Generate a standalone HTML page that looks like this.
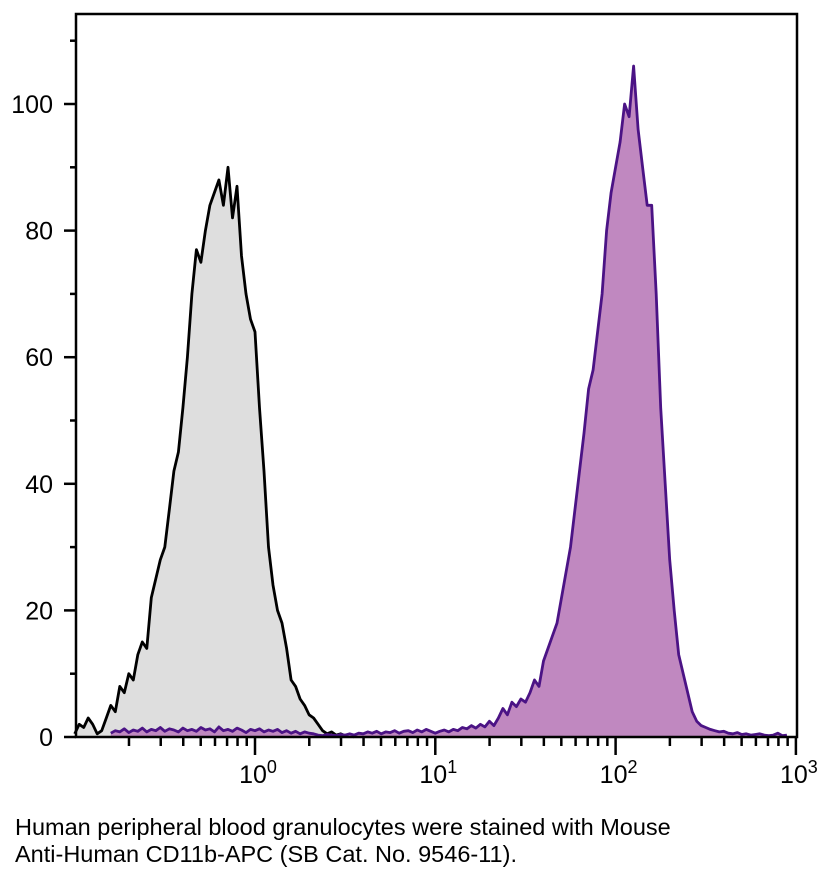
<!DOCTYPE html>
<html><head><meta charset="utf-8"><style>
body{margin:0;background:#fff;width:826px;height:881px;overflow:hidden}
svg{display:block}
.cap{position:absolute;left:15px;font-family:"Liberation Sans",sans-serif;font-size:23.5px;color:#000;white-space:nowrap}
</style></head><body>
<svg id="chart" width="826" height="800" xmlns="http://www.w3.org/2000/svg"></svg>
<div class="cap" style="top:814px;line-height:27px">Human peripheral blood granulocytes were stained with Mouse<br>Anti-Human CD11b-APC (SB Cat. No. 9546-11).</div>
<script>
const blackStart=-1.0, purpleStart=-0.8, binStep=0.025;
const blackValues=[0.5,2,1.5,3,2,0.5,1,3,5,4,8,7,10,9,13,15,14,22,25,28,30,36,42,45,52,60,70,77,75,80,84,86,88,84,90,82,87,76,70,66,64,52,42,30,24,20,18,14,9,8,6,5,3.5,3,2,1,0.5,0.8,0.3,0.5,0.2,0.3,0];
const purpleValues=[0.6,1.0,0.8,1.3,0.7,1.1,0.9,1.4,0.8,1.2,1.0,1.5,0.9,1.3,1.1,0.8,1.4,1.0,1.2,0.9,1.5,1.1,1.3,0.8,1.6,1.0,1.2,0.9,1.4,1.1,0.7,1.2,1.0,1.3,0.8,1.1,0.9,1.2,0.7,1.0,0.6,0.9,0.5,0.8,0.6,
0.5,0.3,0.2,0.4,0.3,0.2,0.4,0.3,0.5,0.3,0.6,0.5,0.8,0.6,0.9,0.5,0.8,0.7,1.0,0.6,0.9,1.0,0.7,1.1,0.8,1.2,0.9,0.6,0.9,1.1,0.8,1.2,1.0,1.5,1.3,1.8,1.4,2.0,1.6,2.5,1.8,3.0,4.5,3.5,5.5,4.8,6.0,5.5,7.0,9,8,12,14,16,18,22,26,30,36,42,48,55,58,64,70,80,86,90,94,100,98,106,96,90,84,84,70,52,40,28,20,13,10,7,4,2.5,1.8,1.5,1.2,1.0,0.8,0.9,0.6,0.5,0.7,0.4,0.5,0.3,0.4,0.5,0.3,0.2,0.3,0.6,0.2,0.3];
const yTicks=[0,20,40,60,80,100];
const xDecades=[0,1,2,3];

const NS="http://www.w3.org/2000/svg";
const svg=document.getElementById('chart');
const X0=76,X1=797,Y0=737,YT=14;
const xs=L=>255+180.3*L;
const ys=v=>Y0-6.33*v;
function mk(t,a,p){const e=document.createElementNS(NS,t);for(const k in a)e.setAttribute(k,a[k]);(p||svg).appendChild(e);return e;}

function series(vals,start,fill,stroke,name){
  let pts=[];
  vals.forEach((v,i)=>{pts.push([xs(start+i*binStep),ys(v)]);});
  let d='M'+pts[0][0]+','+Y0+' '+pts.map(p=>'L'+p[0].toFixed(1)+','+p[1].toFixed(1)).join(' ')+' L'+pts[pts.length-1][0]+','+Y0+'Z';
  const a=mk('path',{d:d,fill:fill,stroke:'none'});
  
  
  const l=mk('path',{d:'M'+pts.map(p=>p[0].toFixed(1)+','+p[1].toFixed(1)).join(' L'),fill:'none',stroke:stroke,'stroke-width':2.8,'stroke-linejoin':'round'});
  
  
}
series(blackValues,blackStart,'#dedede','#000','unstained-histogram');
series(purpleValues,purpleStart,'#c088c0','#4b1385','cd11b-histogram');

const fr=mk('rect',{x:X0,y:YT,width:X1-X0,height:Y0-YT,fill:'none',stroke:'#000','stroke-width':2.5});



for(let v=0;v<=110;v+=10){
  const major=v%20===0&&v<=100;
  const t=mk('line',{x1:X0,x2:X0-(major?12:6),y1:ys(v),y2:ys(v),stroke:'#000','stroke-width':2.5});
  
  
}
yTicks.forEach(v=>{
  const t=mk('text',{x:53,y:ys(v)+9,'text-anchor':'end','font-family':'Liberation Sans, sans-serif','font-size':25});
  t.textContent=v;
  
  
});
for(let d=-1;d<3;d++){
  for(let m=2;m<=9;m++){
    const x=xs(d+Math.log10(m));
    if(x<X0+5)continue;
    const t=mk('line',{x1:x,x2:x,y1:Y0,y2:Y0+9,stroke:'#000','stroke-width':2.5});
    
    
  }
}
xDecades.forEach(d=>{
  const x=xs(d);
  const t=mk('line',{x1:x,x2:x,y1:Y0,y2:Y0+18,stroke:'#000','stroke-width':2.5});
  
  
  const tx=mk('text',{x:x+3,y:Y0+46,'text-anchor':'middle','font-family':'Liberation Sans, sans-serif','font-size':25});
  
  
  const b=mk('tspan',{},tx);b.textContent='10';
  const s=mk('tspan',{dy:-10,'font-size':18},tx);s.textContent=d;
});
</script>
</body></html>
